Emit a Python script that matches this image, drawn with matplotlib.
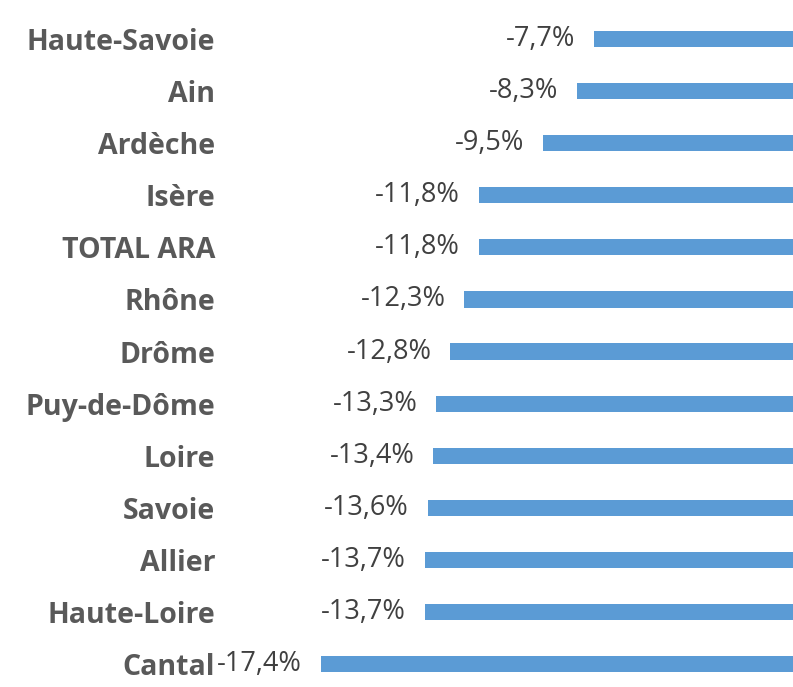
import matplotlib.pyplot as plt

departements = ['Haute-Savoie', 'Ain', 'Ardèche', 'Isère', 'TOTAL ARA', 'Rhône', 'Drôme',
                'Puy-de-Dôme', 'Loire', 'Savoie', 'Allier', 'Haute-Loire', 'Cantal']
variation = [-7.7, -8.3, -9.5, -11.8, -11.8, -12.3, -12.8, -13.3, -13.4, -13.6, -13.7, -13.7, -17.4]

fig = plt.figure(figsize=(7.93, 6.87), dpi=100)
ax = fig.add_axes([225 / 793, 0, 1 - 225 / 793, 1])

pos = list(range(len(departements)))
ax.barh(pos, variation, height=0.31, color='#5B9BD5')

ax.set_xlim(-20.8, -0.64)
ax.set_ylim(12.44, -0.749)

ax.set_yticks(pos)
ax.set_yticklabels(departements, fontsize=20.5, fontweight='bold', color='#595959', family='Open Sans')
ax.tick_params(axis='y', length=0, pad=7)
ax.set_xticks([])
for s in ax.spines.values():
    s.set_visible(False)

for p, v in zip(pos, variation):
    lbl = ('%.1f%%' % v).replace('.', ',')
    ax.annotate(lbl, (v, p), xytext=(-19, 0), textcoords='offset pixels',
                ha='right', va='center', fontsize=19.5, color='#404040', family='Open Sans')

fig.savefig('out.png', dpi=100)
